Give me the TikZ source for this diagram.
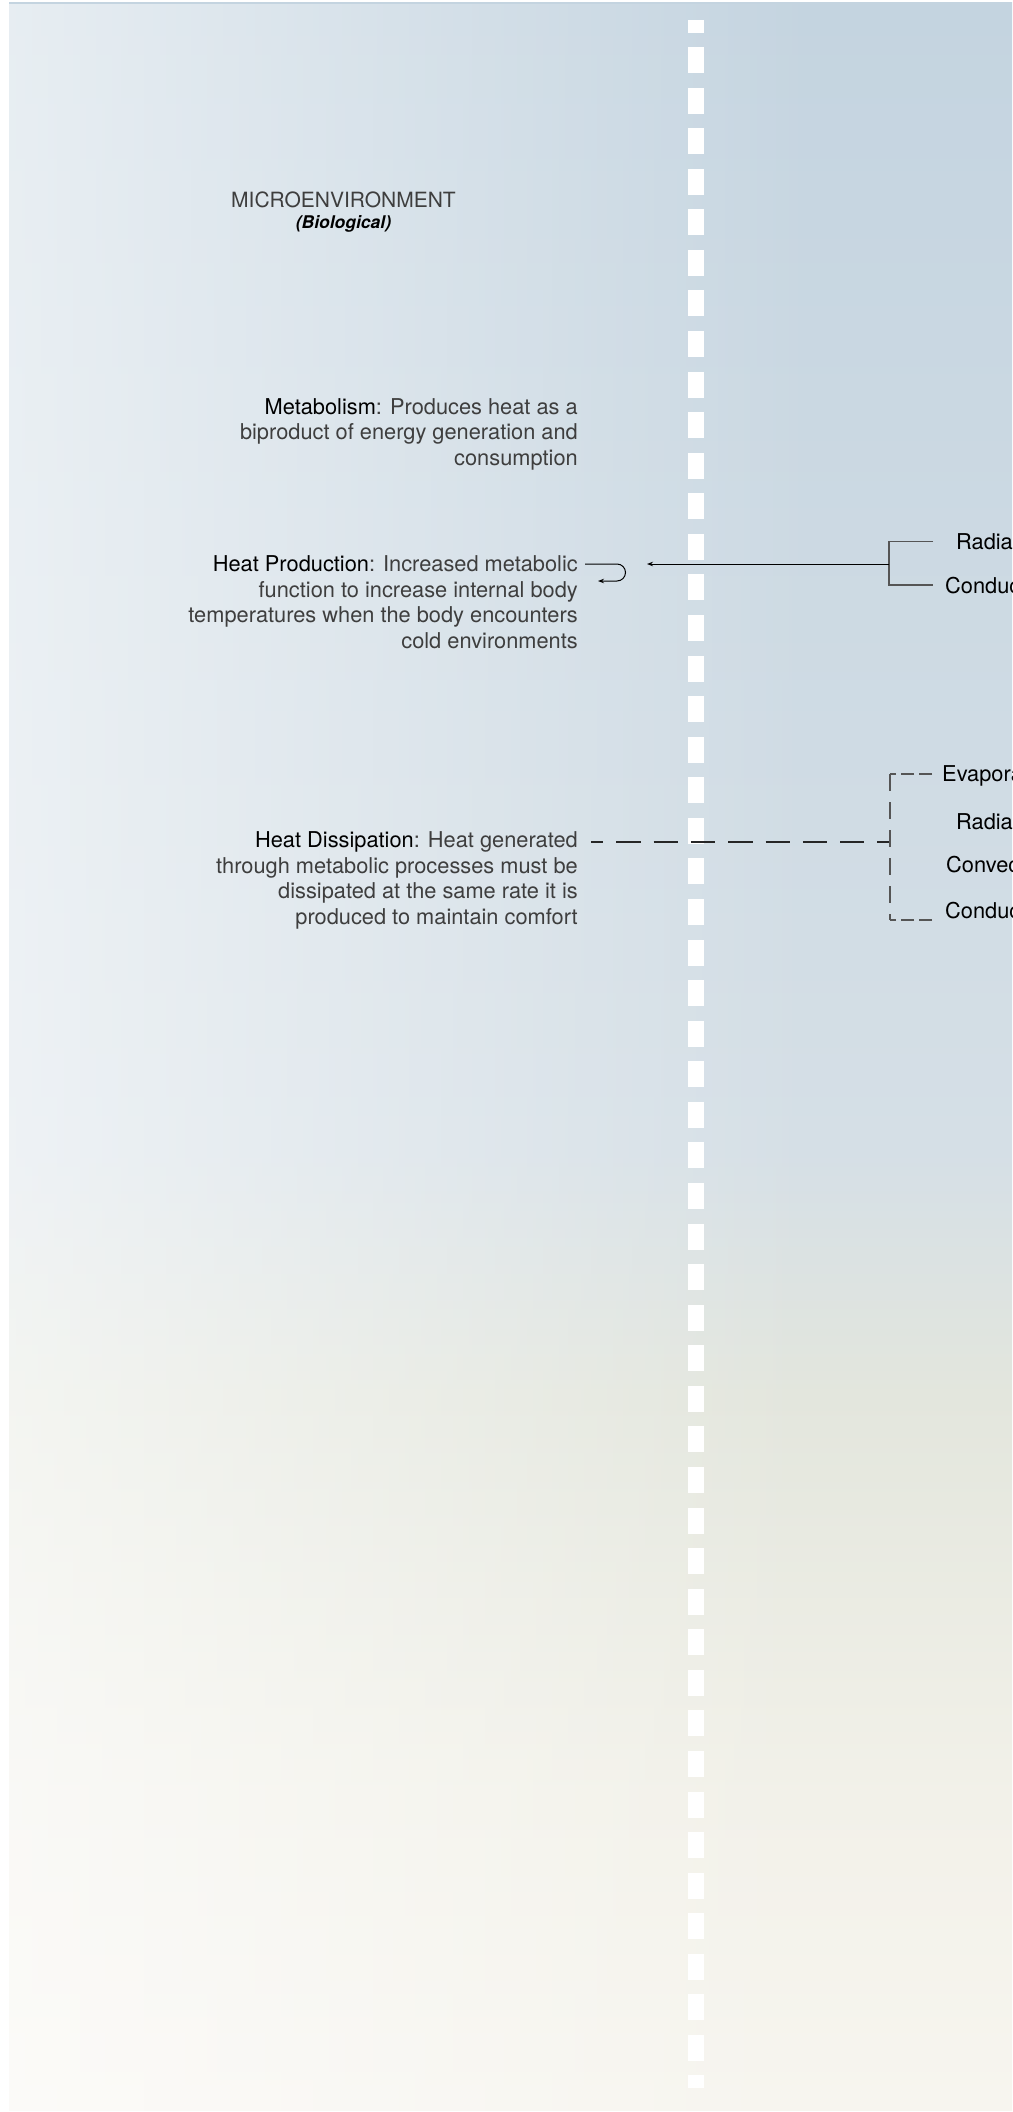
\documentclass[tikz,border=0pt]{standalone}
\usepackage{fontspec}
\setmainfont{TeX Gyre Heros}
\usetikzlibrary{arrows.meta,positioning,fadings}
\definecolor{skyblue}{RGB}{196,212,224}
\definecolor{haze}{RGB}{213,223,230}
\definecolor{sage}{RGB}{227,230,221}
\definecolor{cream}{RGB}{242,241,233}
\definecolor{sand}{RGB}{247,245,239}
\definecolor{bodygray}{RGB}{62,62,62}
\definecolor{linegray}{RGB}{85,85,85}
\pgfdeclareverticalshading{skyfall}{100bp}{color(0bp)=(sand); color(25bp)=(sand);
    color(32.4bp)=(cream); color(41.9bp)=(sage); color(47.8bp)=(haze);
    color(75bp)=(skyblue); color(100bp)=(skyblue)}
\newcommand{\term}[1]{\textcolor{black}{#1}}

\begin{document}
\begin{tikzpicture}[x=1pt,y=1pt,
        blurb/.style={align=right, anchor=base east, inner sep=0pt, text=bodygray,
            font=\fontsize{21.8}{25.4}\selectfont},
        mode/.style={anchor=base west, inner sep=0pt, font=\fontsize{21.8}{25.4}\selectfont},
        brkline/.style={draw=linegray, line width=1.2pt},
    ]
        \useasboundingbox (0,0) rectangle (1012,-2112);
        \clip (0,0) rectangle (1012,-2112);

        % background
        \fill[white] (0,0) rectangle (1012,-2112);
        \shade[shading=skyfall] (9,-2) rectangle (1012,-2110);
        \fill[white, path fading=east, fill opacity=0.6] (9,-2) rectangle (820,-2110);

        % divider
        \fill[white] (688,-20) rectangle (704,-33);
        \foreach \k in {0,...,49}
        \fill[white] (688,{-47-40.57*\k}) rectangle (704,{-73-40.57*\k});
        \fill[white] (688,-2075) rectangle (704,-2088);

        \node[anchor=base, inner sep=0pt, text=bodygray, font=\fontsize{21}{25}\selectfont]
            (micro) at (343.5,-207) {MICROENVIRONMENT};
        \node[anchor=base, inner sep=0pt, font=\fontsize{17.5}{20}\selectfont\bfseries\itshape]
            (bio) at (343.5,-228) {(Biological)};

        % last baselines
        \node[blurb] (metab) at (578,-465)
            {\term{Metabolism}: Produces heat as a\\biproduct of energy generation and\\consumption};
        \node[blurb] (prod) at (578,-648)
            {\term{Heat Production}: Increased metabolic\\function to increase internal body\\temperatures when the body encounters\\cold environments};
        \node[blurb] (dissip) at (578,-924)
            {\term{Heat Dissipation}: Heat generated\\through metabolic processes must be\\dissipated at the same rate it is\\produced to maintain comfort};

        \node[mode] (radA) at (956,-549) {Radiation};
        \node[mode] (condA) at (945,-593) {Conduction};
        \node[mode] (evapB) at (942,-781) {Evaporation};
        \node[mode] (radB) at (956,-829) {Radiation};
        \node[mode] (convB) at (946,-872) {Convection};
        \node[mode] (condB) at (945,-918) {Conduction};

        % heat production
        \coordinate (brkA) at (889,-564);
        \coordinate (tipA) at (933,-564);
        \coordinate (prodend) at (647,-564);
        \coordinate (loopA) at (585,-564);
        \draw[brkline] (radA.west -| tipA) -| (brkA) |- (condA.west -| tipA);
        \draw[line width=1pt, -{Stealth[length=6pt,width=4.5pt]}] (brkA) -- (prodend);
        \draw[line width=1pt, -{Stealth[length=6pt,width=4.5pt]}]
            (loopA) -- ++(32,0) arc (90:-90:8.5) -- ++(-19,0);

        % heat dissipation
        \coordinate (brkB) at (890,-842);
        \coordinate (topB) at (890,-774);
        \coordinate (botB) at (890,-920);
        \coordinate (dissA) at (591,-842);
        \draw[line width=1.2pt, draw=black!85, dash pattern=on 24.3pt off 13pt, dash phase=12pt]
            (dissA) -- (brkB);
        \draw[brkline, dash pattern=on 13pt off 5pt] (topB -| evapB.west) ++(-10,0) -- (topB);
        \draw[brkline, dash pattern=on 17pt off 11pt] (topB) -- (botB);
        \draw[brkline, dash pattern=on 13pt off 5pt] (botB -| condB.west) ++(-13,0) -- (botB);

    \end{tikzpicture}
\end{document}
